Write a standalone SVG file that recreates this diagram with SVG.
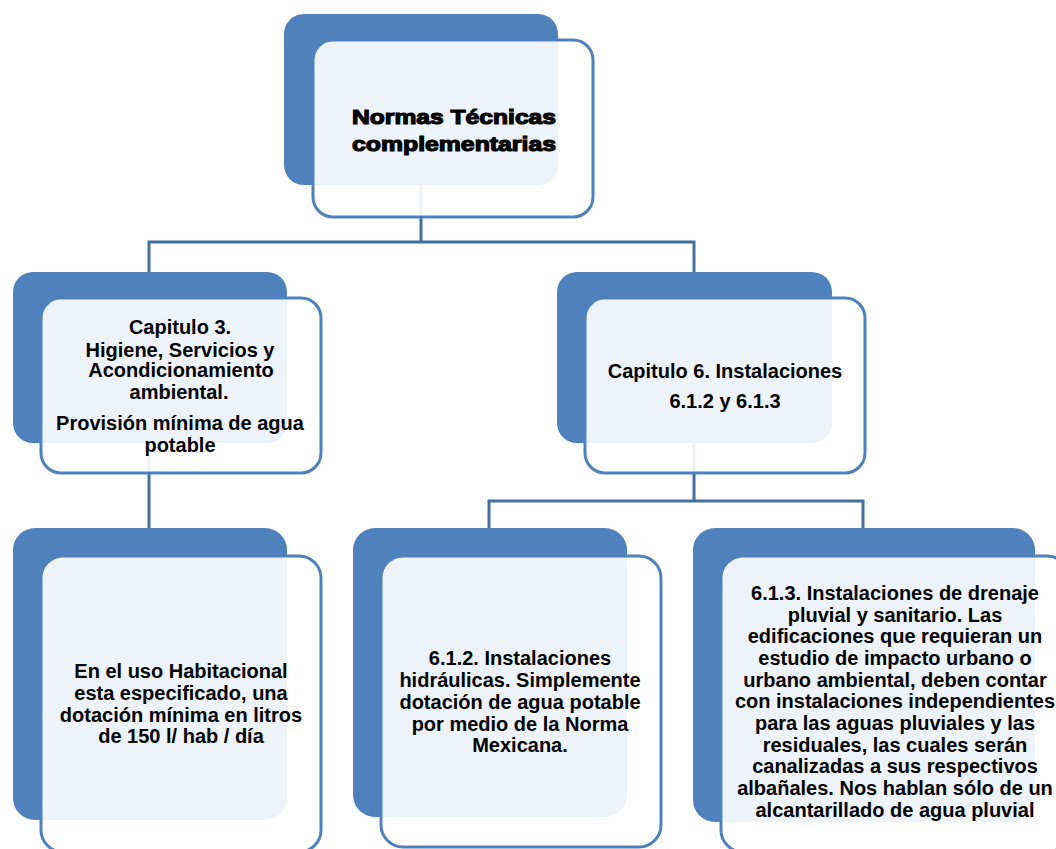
<svg xmlns="http://www.w3.org/2000/svg" width="1056" height="849" viewBox="0 0 1056 849">
<style>
.back{fill:#4F81BD}
.front{fill:#FFFFFF;fill-opacity:0.9;stroke:#4F81BD;stroke-width:3}
.conn{fill:none;stroke:#41719C;stroke-width:3}
text{font-family:"Liberation Sans",Arial,sans-serif;font-weight:bold;font-size:20px;fill:#000;text-anchor:middle}
.title{font-size:21px;stroke:#000;stroke-width:1.2}
</style>
<rect width="1056" height="849" fill="#FFFFFF"/>
<g id="connectors">
<path class="conn" d="M421,185 V242 M149,272 V242 H694 V272"/>
<path class="conn" d="M149,443 V528"/>
<path class="conn" d="M694,443 V501 M489,528 V501 H863 V528"/>
</g>
<g id="node-root">
<rect class="back" x="284" y="14" width="274" height="171" rx="20"/>
<rect class="front" x="313" y="40" width="280" height="177" rx="20"/>
<text class="title" x="454" y="124" textLength="204" lengthAdjust="spacingAndGlyphs">Normas Técnicas</text>
<text class="title" x="454" y="151" textLength="204" lengthAdjust="spacingAndGlyphs">complementarias</text>
</g>
<g id="node-cap3">
<rect class="back" x="13" y="272" width="274" height="171" rx="20"/>
<rect class="front" x="41" y="298" width="280" height="175" rx="20"/>
<text x="180" y="334">Capitulo 3.</text>
<text x="180" y="357">Higiene, Servicios y</text>
<text x="181" y="377">Acondicionamiento</text>
<text x="179" y="399">ambiental.</text>
<text x="180" y="430">Provisión mínima de agua</text>
<text x="180" y="452">potable</text>
</g>
<g id="node-cap6">
<rect class="back" x="557" y="272" width="275" height="171" rx="20"/>
<rect class="front" x="585" y="298" width="280" height="175" rx="20"/>
<text x="725" y="378">Capitulo 6. Instalaciones</text>
<text x="725" y="408">6.1.2 y 6.1.3</text>
</g>
<g id="node-habitacional">
<rect class="back" x="13" y="528" width="274" height="292" rx="22"/>
<rect class="front" x="41" y="556" width="280" height="296" rx="22"/>
<text x="181" y="678">En el uso Habitacional</text>
<text x="181" y="700">esta especificado, una</text>
<text x="181" y="722">dotación mínima en litros</text>
<text x="181" y="743">de 150 l/ hab / día</text>
</g>
<g id="node-612">
<rect class="back" x="353" y="528" width="274" height="289" rx="22"/>
<rect class="front" x="381" y="556" width="280" height="291" rx="22"/>
<text x="520" y="665">6.1.2. Instalaciones</text>
<text x="520" y="687">hidráulicas. Simplemente</text>
<text x="520" y="709">dotación de agua potable</text>
<text x="520" y="731">por medio de la Norma</text>
<text x="520" y="752">Mexicana.</text>
</g>
<g id="node-613">
<rect class="back" x="693" y="528" width="342" height="294" rx="22"/>
<rect class="front" x="721" y="556" width="348" height="296" rx="22"/>
<text x="895" y="600">6.1.3. Instalaciones de drenaje</text>
<text x="895" y="622">pluvial y sanitario. Las</text>
<text x="895" y="643">edificaciones que requieran un</text>
<text x="895" y="665">estudio de impacto urbano o</text>
<text x="895" y="687">urbano ambiental, deben contar</text>
<text x="895" y="708">con instalaciones independientes</text>
<text x="895" y="730">para las aguas pluviales y las</text>
<text x="895" y="752">residuales, las cuales serán</text>
<text x="895" y="773">canalizadas a sus respectivos</text>
<text x="895" y="795">albañales. Nos hablan sólo de un</text>
<text x="895" y="817">alcantarillado de agua pluvial</text>
</g>
</svg>
